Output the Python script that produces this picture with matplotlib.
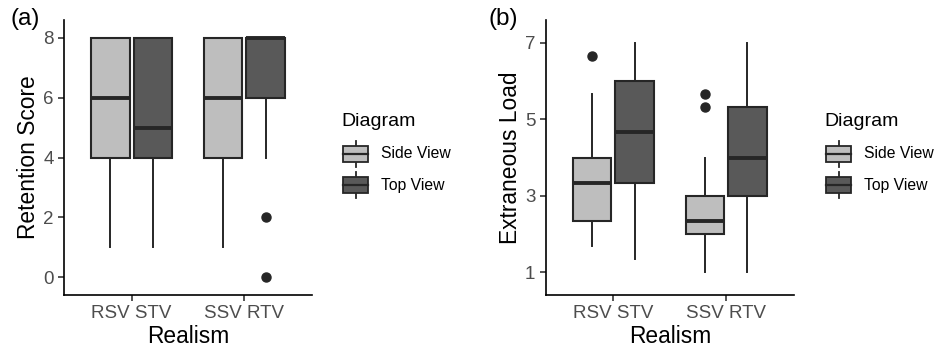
import matplotlib
matplotlib.use("Agg")
import matplotlib.pyplot as plt
from matplotlib.patches import Rectangle
from matplotlib.lines import Line2D

plt.rcParams['font.family'] = ['Liberation Sans', 'DejaVu Sans']

# ---- data ----
groups = ["RSV STV", "SSV RTV"]
diagrams = ["Side View", "Top View"]

# panel (a): Retention Score
a_side_med = [6, 6]
a_side_q1 = [4, 4]
a_side_q3 = [8, 8]
a_side_lo = [1, 1]
a_side_hi = [8, 8]
a_side_out = [[], []]

a_top_med = [5, 8]
a_top_q1 = [4, 6]
a_top_q3 = [8, 8]
a_top_lo = [1, 4]
a_top_hi = [8, 8]
a_top_out = [[], [2, 0]]

# panel (b): Extraneous Load
b_side_med = [3.33, 2.33]
b_side_q1 = [2.33, 2.0]
b_side_q3 = [4.0, 3.0]
b_side_lo = [1.67, 1.0]
b_side_hi = [5.67, 4.0]
b_side_out = [[6.67], [5.67, 5.33]]

b_top_med = [4.67, 4.0]
b_top_q1 = [3.33, 3.0]
b_top_q3 = [6.0, 5.33]
b_top_lo = [1.33, 1.0]
b_top_hi = [7.0, 7.0]
b_top_out = [[], []]

FILL = {"Side View": "#bebebe", "Top View": "#595959"}
EDGE = "#262626"
TICKC = "#4d4d4d"

W, H = 950, 349
fig = plt.figure(figsize=(9.5, 3.49), dpi=100)


def stats(med, q1, q3, lo, hi, out):
    return [dict(med=m, q1=a, q3=b, whislo=l, whishi=h, fliers=f)
            for m, a, b, l, h, f in zip(med, q1, q3, lo, hi, out)]


def draw_panel(rect, side, top, ylim, yticks, ylabel, tag, tagx):
    ax = fig.add_axes(rect)
    for k, (name, st) in enumerate(zip(diagrams, [side, top])):
        pos = [i + 1 + (k - 0.5) * 0.375 for i in range(len(groups))]
        ax.bxp(st, positions=pos, widths=0.34, patch_artist=True,
               showcaps=False,
               boxprops=dict(facecolor=FILL[name], edgecolor=EDGE, linewidth=1.5),
               medianprops=dict(color=EDGE, linewidth=2.8, solid_capstyle='butt'),
               whiskerprops=dict(color=EDGE, linewidth=1.4),
               flierprops=dict(marker='o', markersize=6.5, markerfacecolor=EDGE,
                               markeredgecolor=EDGE))
    ax.set_xlim(0.4, 2.6)
    ax.set_ylim(*ylim)
    ax.set_xticks([1, 2])
    ax.set_xticklabels(groups)
    ax.set_yticks(yticks)
    ax.tick_params(colors=EDGE, labelcolor=TICKC, labelsize=13.5, length=4, width=1.1)
    for s in ['top', 'right']:
        ax.spines[s].set_visible(False)
    for s in ['left', 'bottom']:
        ax.spines[s].set_linewidth(1.2)
        ax.spines[s].set_color('black')
    ax.set_xlabel("Realism", fontsize=16.4, labelpad=2)
    ax.set_ylabel(ylabel, fontsize=16.4, labelpad=2)
    fig.text(tagx / W, 1 - 8 / H, tag, fontsize=17.5, ha='left', va='top')
    return ax


def draw_legend(x0, y0):
    # x0, y0: pixel position (left, top of title)
    fig.text(x0 / W, 1 - y0 / H, "Diagram", fontsize=14, ha='left', va='top')
    for k, name in enumerate(diagrams):
        top = y0 + 33 + k * 31
        bx = x0 + 2
        fig.add_artist(Line2D([(bx + 12.5) / W] * 2, [1 - (top - 5) / H, 1 - (top + 21) / H],
                              color=EDGE, linewidth=1.3, zorder=1))
        fig.add_artist(Rectangle((bx / W, 1 - (top + 16) / H), 25 / W, 16 / H,
                                 facecolor=FILL[name], edgecolor=EDGE, linewidth=1.3,
                                 zorder=2))
        fig.add_artist(Line2D([bx / W, (bx + 25) / W], [1 - (top + 8) / H] * 2,
                              color=EDGE, linewidth=1.6, zorder=3))
        fig.text((x0 + 40) / W, 1 - (top + 8) / H, name, fontsize=11.3,
                 ha='left', va='center')


draw_panel([64 / W, 1 - 295 / H, 248 / W, 275 / H],
           stats(a_side_med, a_side_q1, a_side_q3, a_side_lo, a_side_hi, a_side_out),
           stats(a_top_med, a_top_q1, a_top_q3, a_top_lo, a_top_hi, a_top_out),
           (-0.6, 8.6), [0, 2, 4, 6, 8], "Retention Score", "(a)", 10)
draw_panel([545.7 / W, 1 - 295 / H, 248.3 / W, 275 / H],
           stats(b_side_med, b_side_q1, b_side_q3, b_side_lo, b_side_hi, b_side_out),
           stats(b_top_med, b_top_q1, b_top_q3, b_top_lo, b_top_hi, b_top_out),
           (0.4, 7.6), [1, 3, 5, 7], "Extraneous Load", "(b)", 489)

draw_legend(341, 113)
draw_legend(824, 113)

fig.savefig("out.png", dpi=100)
